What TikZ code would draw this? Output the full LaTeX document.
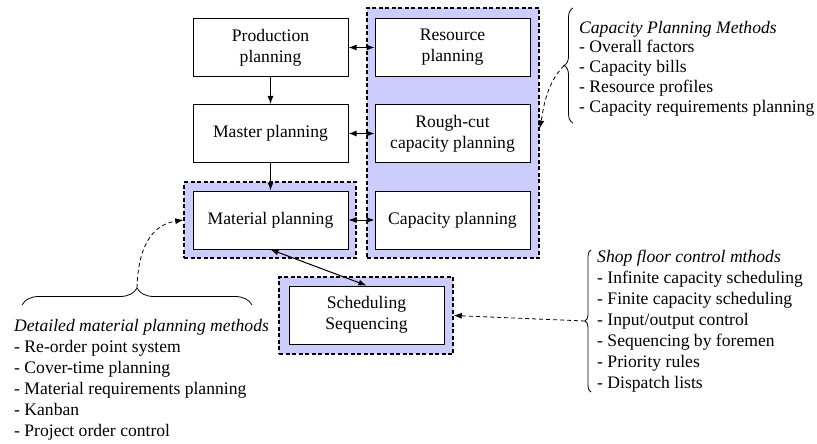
\documentclass[tikz,border=0pt]{standalone}
\usepackage{fontspec}
\setmainfont{Liberation Serif}
\newfontfamily\planfont{Liberation Serif}
\usetikzlibrary{arrows.meta,decorations.pathreplacing}
\definecolor{groupblue}{RGB}{204,204,255}
\begin{document}
\begin{tikzpicture}[x=1pt, y=-1pt, >={Latex[length=8pt,width=6pt]},
  every node/.style={font=\planfont\fontsize{17.6}{21}\selectfont, inner sep=+0pt},
  planbox/.style={draw, fill=white, line width=1pt, minimum width=155pt,
    minimum height=58pt, align=center},
  groupbox/.style={draw, fill=groupblue, line width=1.5pt, dash pattern=on 4pt off 2.5pt},
  hint/.style={->, line width=0.8pt, dash pattern=on 4pt off 3pt},
  curly/.style={line width=0.8pt, decorate, decoration={brace, amplitude=#1}}]
\useasboundingbox (0,0) rectangle (817,444);
% shaded groups
\node[groupbox, minimum width=172pt, minimum height=250pt] (capgrp)   at (453,133)   {};
\node[groupbox, minimum width=172pt, minimum height=76pt]  (matgrp)   at (270,220)   {};
\node[groupbox, minimum width=174pt, minimum height=77pt]  (schedgrp) at (366,315.5) {};
% planning levels
\node[planbox] (prod)   at (270.5,47.5)  {Production\\planning};
\node[planbox] (res)    at (452.5,47.5)  {Resource\\planning};
\node[planbox] (master) at (270.5,133.5) {Master planning};
\node[planbox] (rough)  at (452.5,133.5) {Rough-cut\\capacity planning};
\node[planbox] (mat)    at (270.5,220)   {Material planning};
\node[planbox] (cap)    at (452.5,220)   {Capacity planning};
\node[planbox] (sched)  at (366.5,315)   {Scheduling\\Sequencing};
\draw[->, line width=1pt] (prod) -- (master);
\draw[->, line width=1pt] (master) -- (mat);
\foreach \a/\b in {prod/res, master/rough, mat/cap}
  \draw[<->, line width=1pt] (\a) -- (\b);
\draw[<->, line width=1pt] (mat.south) -- (sched.north);
% method lists
\draw[curly=9] (573,123) -- (573,8);
\coordinate (captip) at (564,65.5);
\node[anchor=west, align=left, font=\planfont\fontsize{17.6}{19.8}\selectfont] (capmeth) at (579,68.5)
  {\textit{Capacity Planning Methods}\\- Overall factors\\- Capacity bills\\%
   - Resource profiles\\- Capacity requirements planning};
\draw[curly=17] (22,305) -- (252,305);
\coordinate (mattip) at (137,288);
\node[anchor=west, align=left] (matmeth) at (14,379.5)
  {\textit{Detailed material planning methods}\\- Re-order point system\\%
   - Cover-time planning\\- Material requirements planning\\- Kanban\\%
   - Project order control};
\draw[curly=6] (591,392) -- (591,250);
\coordinate (shoptip) at (585,321);
\node[anchor=west, align=left] (shopmeth) at (597,321.5)
  {\textit{Shop floor control mthods}\\- Infinite capacity scheduling\\%
   - Finite capacity scheduling\\- Input/output control\\%
   - Sequencing by foremen\\- Priority rules\\- Dispatch lists};
\draw[hint] (captip) .. controls (545,85) and (543,112) .. (capgrp.3);
\draw[hint] (mattip) .. controls (138,250) and (150,225) .. (matgrp.west);
\draw[hint] (shoptip) -- (schedgrp.east);
\end{tikzpicture}
\end{document}
